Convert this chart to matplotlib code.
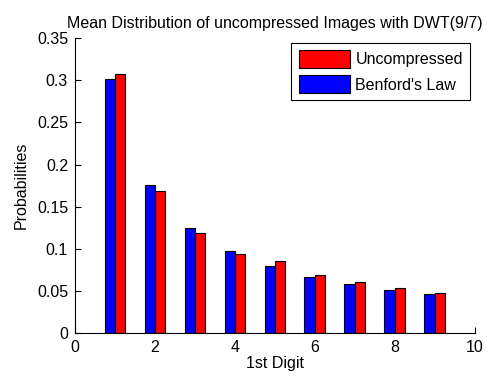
import matplotlib.pyplot as plt
import numpy as np

plt.rcParams['font.family'] = ['Liberation Sans', 'DejaVu Sans']

digits = np.arange(1, 10)
benford = [0.301, 0.176, 0.125, 0.097, 0.079, 0.067, 0.058, 0.051, 0.046]
uncompressed = [0.307, 0.168, 0.119, 0.094, 0.086, 0.069, 0.060, 0.053, 0.048]

fs = 11.5

fig = plt.figure(figsize=(4.87, 3.85), dpi=100)
ax = fig.add_axes([0.154, 0.135, 0.821, 0.766])

w = 0.26
ax.bar(digits - w / 2, benford, w, color='#0000ff', edgecolor='black', linewidth=0.8, label="Benford's Law")
ax.bar(digits + w / 2, uncompressed, w, color='#ff0000', edgecolor='black', linewidth=0.8, label='Uncompressed')

ax.set_xlim(0, 10)
ax.set_ylim(0, 0.35)
ax.set_xticks([0, 2, 4, 6, 8, 10])
ax.set_yticks(np.arange(0, 0.351, 0.05))
ax.set_yticklabels(['0', '0.05', '0.1', '0.15', '0.2', '0.25', '0.3', '0.35'])
ax.tick_params(direction='in', length=4, labelsize=fs, pad=5)
ax.spines['top'].set_visible(False)
ax.spines['right'].set_visible(False)

ax.set_title('Mean Distribution of uncompressed Images with DWT(9/7)', fontsize=fs, pad=7)
ax.set_xlabel('1st Digit', fontsize=fs, labelpad=1)
ax.set_ylabel('Probabilities', fontsize=fs, labelpad=6)

# legend lists the red series first
h, l = ax.get_legend_handles_labels()
leg = ax.legend(h[::-1], l[::-1], loc='upper right', fontsize=fs, fancybox=False,
                framealpha=1, edgecolor='black', handlelength=3.2, handleheight=1.35,
                handletextpad=0.35, borderaxespad=0.3, labelspacing=0.45, borderpad=0.45)
leg.get_frame().set_linewidth(0.8)

fig.savefig('out.png', dpi=100)
